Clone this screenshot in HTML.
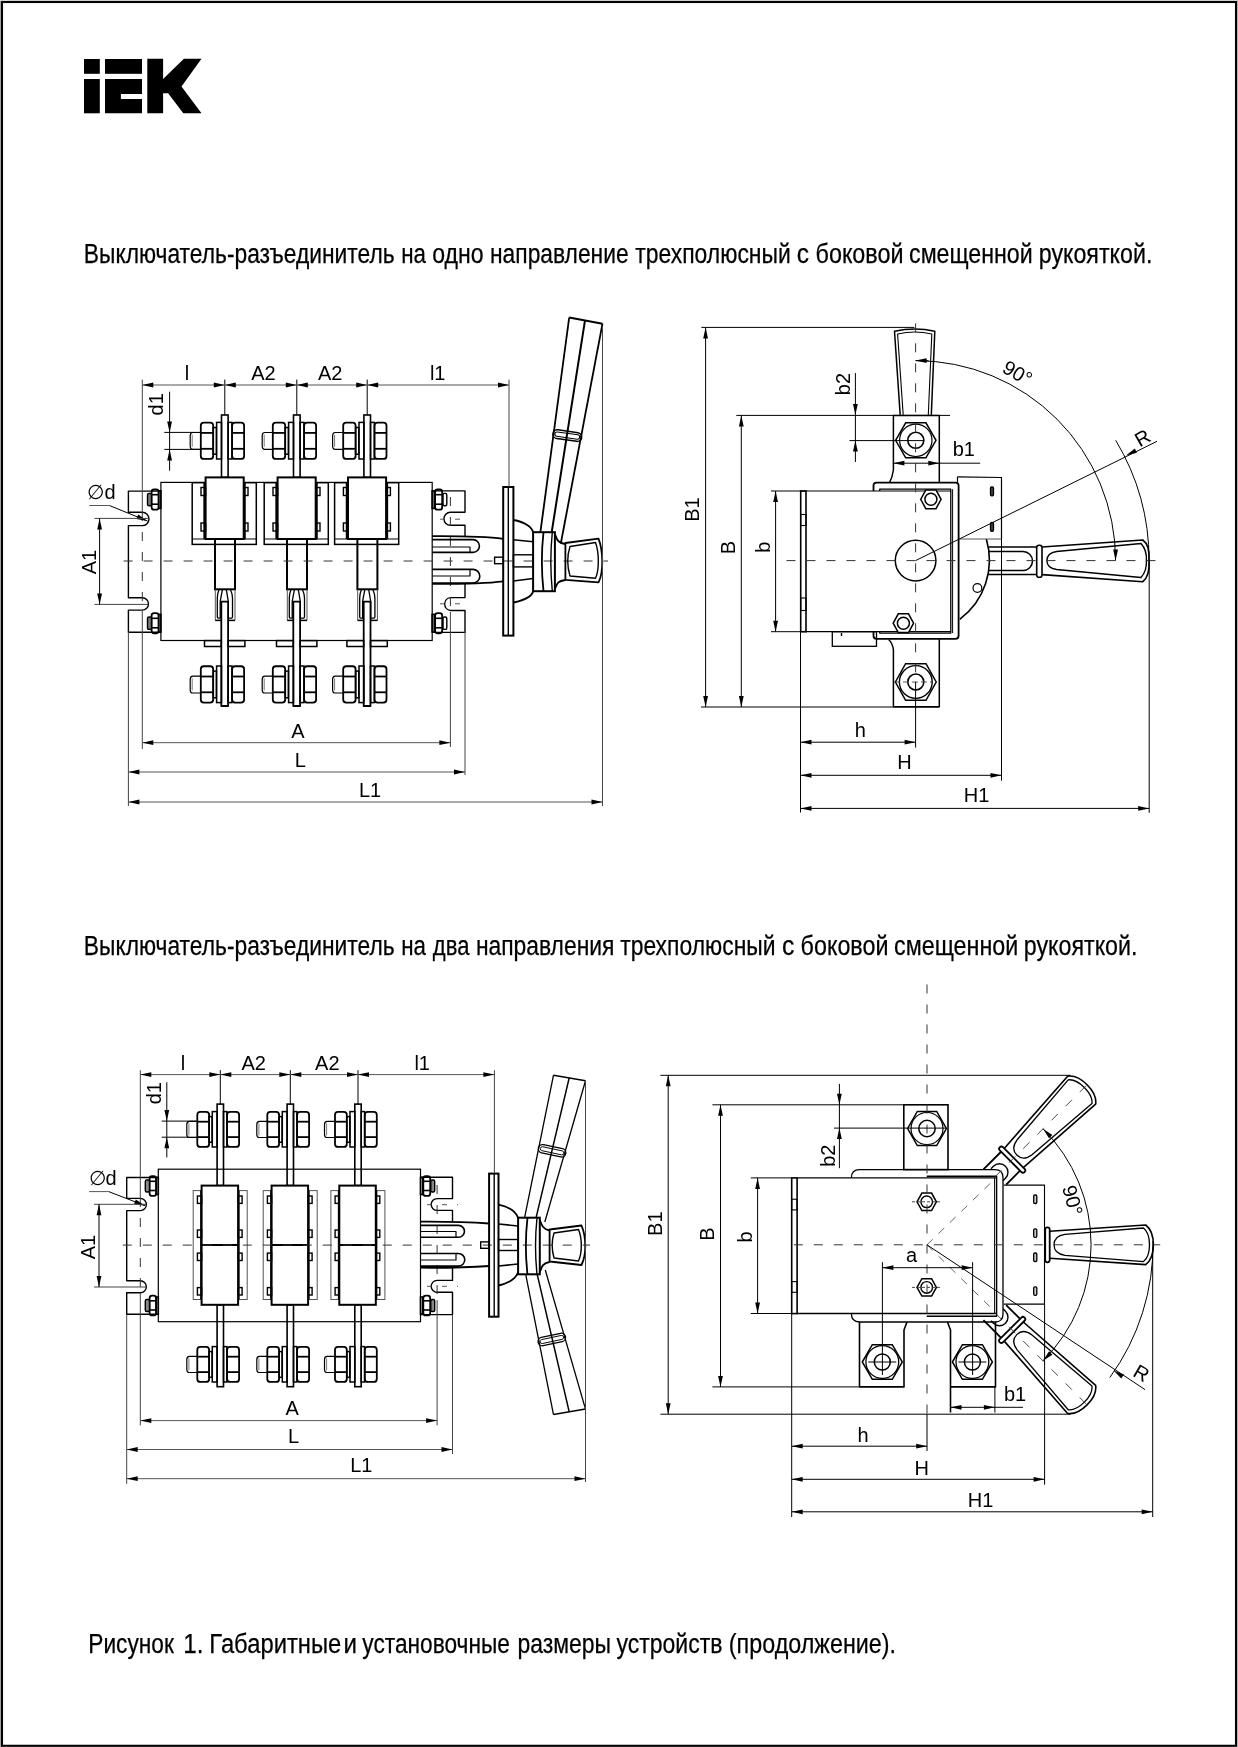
<!DOCTYPE html>
<html><head><meta charset="utf-8"><style>
html,body{margin:0;padding:0;background:#fff;}
svg{display:block;will-change:transform;}
text{font-family:"Liberation Sans",sans-serif;fill:#000;}
.t27{stroke:#000;stroke-width:0.25;}
</style></head><body>
<svg width="1238" height="1747" viewBox="0 0 1238 1747">
<rect x="0" y="0" width="1" height="1747" fill="#aaa"/>
<rect x="0" y="0" width="1238" height="1" fill="#ddd"/>
<rect x="1237" y="0" width="1" height="1747" fill="#bbb"/>
<rect x="2" y="2" width="1234" height="1743.8" fill="none" stroke="#000" stroke-width="2.1"/>
<g fill="#000"><rect x="84" y="59" width="15.8" height="14.8"/><rect x="84" y="79" width="15.8" height="34.3"/><rect x="105" y="59" width="37" height="14.8"/><polygon points="105,79 142,79 142,93.9 120.9,93.9 120.9,99 142,99 142,113.3 105,113.3"/><polygon points="147.3,58.8 163.1,58.8 163.1,79 183.9,58.8 201.5,58.8 181.5,86.6 201.5,113.3 183.3,113.3 168.1,93.3 163.1,93.3 163.1,113.3 147.3,113.3"/></g>
<text x="83.84" y="262.5" font-size="27" text-anchor="start" textLength="310.76" lengthAdjust="spacingAndGlyphs" class="t27">Выключатель-разъединитель</text>
<text x="401.23" y="262.5" font-size="27" text-anchor="start" textLength="24.8" lengthAdjust="spacingAndGlyphs" class="t27">на</text>
<text x="432.16" y="262.5" font-size="27" text-anchor="start" textLength="51.38" lengthAdjust="spacingAndGlyphs" class="t27">одно</text>
<text x="490.0" y="262.5" font-size="27" text-anchor="start" textLength="138.6" lengthAdjust="spacingAndGlyphs" class="t27">направление</text>
<text x="635.28" y="262.5" font-size="27" text-anchor="start" textLength="155.49" lengthAdjust="spacingAndGlyphs" class="t27">трехполюсный</text>
<text x="796.8" y="262.5" font-size="27" text-anchor="start" textLength="12.23" lengthAdjust="spacingAndGlyphs" class="t27">с</text>
<text x="815.51" y="262.5" font-size="27" text-anchor="start" textLength="88.09" lengthAdjust="spacingAndGlyphs" class="t27">боковой</text>
<text x="909.05" y="262.5" font-size="27" text-anchor="start" textLength="123.7" lengthAdjust="spacingAndGlyphs" class="t27">смещенной</text>
<text x="1038.74" y="262.5" font-size="27" text-anchor="start" textLength="113.65" lengthAdjust="spacingAndGlyphs" class="t27">рукояткой.</text>
<text x="83.84" y="954.7" font-size="27" text-anchor="start" textLength="310.76" lengthAdjust="spacingAndGlyphs" class="t27">Выключатель-разъединитель</text>
<text x="401.23" y="954.7" font-size="27" text-anchor="start" textLength="24.8" lengthAdjust="spacingAndGlyphs" class="t27">на</text>
<text x="432.86" y="954.7" font-size="27" text-anchor="start" textLength="36.55" lengthAdjust="spacingAndGlyphs" class="t27">два</text>
<text x="475.89" y="954.7" font-size="27" text-anchor="start" textLength="138.52" lengthAdjust="spacingAndGlyphs" class="t27">направления</text>
<text x="620.18" y="954.7" font-size="27" text-anchor="start" textLength="155.39" lengthAdjust="spacingAndGlyphs" class="t27">трехполюсный</text>
<text x="781.89" y="954.7" font-size="27" text-anchor="start" textLength="12.35" lengthAdjust="spacingAndGlyphs" class="t27">с</text>
<text x="800.62" y="954.7" font-size="27" text-anchor="start" textLength="87.88" lengthAdjust="spacingAndGlyphs" class="t27">боковой</text>
<text x="894.05" y="954.7" font-size="27" text-anchor="start" textLength="124.21" lengthAdjust="spacingAndGlyphs" class="t27">смещенной</text>
<text x="1023.74" y="954.7" font-size="27" text-anchor="start" textLength="113.76" lengthAdjust="spacingAndGlyphs" class="t27">рукояткой.</text>
<text x="88.25" y="1653" font-size="27" text-anchor="start" textLength="85.59" lengthAdjust="spacingAndGlyphs" class="t27">Рисунок</text>
<text x="183.2" y="1653" font-size="27" text-anchor="start" textLength="20.27" lengthAdjust="spacingAndGlyphs" class="t27">1.</text>
<text x="209.36" y="1653" font-size="27" text-anchor="start" textLength="131.87" lengthAdjust="spacingAndGlyphs" class="t27">Габаритные</text>
<text x="343.5" y="1653" font-size="27" text-anchor="start" textLength="13.48" lengthAdjust="spacingAndGlyphs" class="t27">и</text>
<text x="362.32" y="1653" font-size="27" text-anchor="start" textLength="147.55" lengthAdjust="spacingAndGlyphs" class="t27">установочные</text>
<text x="517.45" y="1653" font-size="27" text-anchor="start" textLength="93.67" lengthAdjust="spacingAndGlyphs" class="t27">размеры</text>
<text x="616.41" y="1653" font-size="27" text-anchor="start" textLength="106.1" lengthAdjust="spacingAndGlyphs" class="t27">устройств</text>
<text x="728.83" y="1653" font-size="27" text-anchor="start" textLength="167.19" lengthAdjust="spacingAndGlyphs" class="t27">(продолжение).</text>
<rect x="160.90" y="482.40" width="271.30" height="158.10" fill="none" stroke="#000" stroke-width="1.2"/>
<path d="M160.9,491.1 H128.4 V512.2 H142.3 A6.7,6.7 0 0 1 142.3,525.6 H128.4 V597.7 H142.3 A6.2,6.2 0 0 1 142.3,610.1 H128.4 V632.2 H160.9" fill="none" stroke="#000" stroke-width="1.4" stroke-linejoin="round" />
<path d="M432.2,490.9 H465 V512.3 H450.4 A6.5,6.5 0 0 0 450.4,525.3 H465 V536.5" fill="none" stroke="#000" stroke-width="1.4" stroke-linejoin="round" />
<path d="M465,584 V597.6 H450.4 A6.5,6.5 0 0 0 450.4,610.5 H465 V632.4 H432.2" fill="none" stroke="#000" stroke-width="1.4" stroke-linejoin="round" />
<rect x="158.70" y="490.80" width="2.20" height="17.60" fill="none" stroke="#000" stroke-width="1.6"/>
<rect x="151.60" y="489.50" width="7.00" height="20.20" rx="2.5" fill="none" stroke="#000" stroke-width="1.8"/>
<line x1="151.6" y1="494.7" x2="158.6" y2="494.7" stroke="#000" stroke-width="1.6" />
<line x1="151.6" y1="504.2" x2="158.6" y2="504.2" stroke="#000" stroke-width="1.6" />
<rect x="147.50" y="493.40" width="4.00" height="12.40" rx="1.5" fill="#777" stroke="#000" stroke-width="1.4"/>
<rect x="432.10" y="490.80" width="2.10" height="17.60" fill="none" stroke="#000" stroke-width="1.6"/>
<rect x="435.10" y="489.50" width="7.10" height="20.20" rx="2.5" fill="none" stroke="#000" stroke-width="1.8"/>
<line x1="435.1" y1="494.7" x2="442.2" y2="494.7" stroke="#000" stroke-width="1.6" />
<line x1="435.1" y1="504.2" x2="442.2" y2="504.2" stroke="#000" stroke-width="1.6" />
<rect x="443.00" y="493.40" width="3.80" height="12.40" rx="1.5" fill="none" stroke="#000" stroke-width="1.4"/>
<rect x="158.70" y="614.40" width="2.20" height="17.60" fill="none" stroke="#000" stroke-width="1.6"/>
<rect x="151.60" y="613.10" width="7.00" height="20.20" rx="2.5" fill="none" stroke="#000" stroke-width="1.8"/>
<line x1="151.6" y1="618.3" x2="158.6" y2="618.3" stroke="#000" stroke-width="1.6" />
<line x1="151.6" y1="627.8" x2="158.6" y2="627.8" stroke="#000" stroke-width="1.6" />
<rect x="147.50" y="617.00" width="4.00" height="12.40" rx="1.5" fill="#777" stroke="#000" stroke-width="1.4"/>
<rect x="432.10" y="614.40" width="2.10" height="17.60" fill="none" stroke="#000" stroke-width="1.6"/>
<rect x="435.10" y="613.10" width="7.10" height="20.20" rx="2.5" fill="none" stroke="#000" stroke-width="1.8"/>
<line x1="435.1" y1="618.3" x2="442.2" y2="618.3" stroke="#000" stroke-width="1.6" />
<line x1="435.1" y1="627.8" x2="442.2" y2="627.8" stroke="#000" stroke-width="1.6" />
<rect x="443.00" y="617.00" width="3.80" height="12.40" rx="1.5" fill="none" stroke="#000" stroke-width="1.4"/>
<rect x="221.50" y="415.00" width="6.60" height="62.40" fill="none" stroke="#000" stroke-width="1.6"/>
<path d="M200.8,432.5 H192.8 Q190.2,432.5 190.2,435.8 V445.8 Q190.2,449.4 192.8,449.4 H200.8" fill="none" stroke="#000" stroke-width="1.2" stroke-linejoin="round" />
<line x1="192.2" y1="434.8" x2="192.2" y2="446.8" stroke="#555" stroke-width="0.8" />
<rect x="200.80" y="422.65" width="12.40" height="36.30" rx="3" fill="none" stroke="#000" stroke-width="1.8"/>
<line x1="200.8" y1="432.9" x2="213.2" y2="432.9" stroke="#000" stroke-width="1.8" />
<line x1="200.8" y1="448.8" x2="213.2" y2="448.8" stroke="#000" stroke-width="1.8" />
<rect x="213.20" y="427.50" width="3.20" height="26.70" fill="none" stroke="#000" stroke-width="1.5"/>
<rect x="216.60" y="422.40" width="4.90" height="36.60" fill="none" stroke="#000" stroke-width="1.5"/>
<rect x="228.10" y="422.40" width="3.90" height="36.60" fill="none" stroke="#000" stroke-width="1.5"/>
<rect x="232.10" y="422.65" width="12.00" height="36.30" rx="3" fill="none" stroke="#000" stroke-width="1.8"/>
<line x1="232.1" y1="432.9" x2="244.1" y2="432.9" stroke="#000" stroke-width="1.8" />
<line x1="232.1" y1="448.8" x2="244.1" y2="448.8" stroke="#000" stroke-width="1.8" />
<rect x="192.20" y="482.70" width="64.10" height="61.70" fill="none" stroke="#000" stroke-width="1.5"/>
<line x1="192.2" y1="539.0" x2="256.3" y2="539.0" stroke="#000" stroke-width="1.2" />
<line x1="204.2" y1="482.7" x2="204.2" y2="539.0" stroke="#000" stroke-width="1.7" />
<line x1="244.9" y1="482.7" x2="244.9" y2="539.0" stroke="#000" stroke-width="1.7" />
<rect x="205.60" y="477.40" width="38.10" height="61.60" fill="#fff" stroke="#000" stroke-width="2.0"/>
<rect x="201.00" y="487.50" width="4.60" height="8.00" fill="none" stroke="#000" stroke-width="1.4"/>
<rect x="243.70" y="487.50" width="4.30" height="8.00" fill="none" stroke="#000" stroke-width="1.4"/>
<rect x="201.00" y="523.00" width="4.60" height="8.00" fill="none" stroke="#000" stroke-width="1.4"/>
<rect x="243.70" y="523.00" width="4.30" height="8.00" fill="none" stroke="#000" stroke-width="1.4"/>
<rect x="215.00" y="539.00" width="20.00" height="50.30" fill="none" stroke="#000" stroke-width="2.0"/>
<path d="M215.3,589.5 V620.4 H235.0 V589.5" fill="none" stroke="#555" stroke-width="1.0" stroke-linejoin="round" />
<line x1="215.3" y1="620.4" x2="235.0" y2="620.4" stroke="#000" stroke-width="1.5" />
<path d="M218.9,589.7 Q217.3,594 217.3,598.1 V617 Q217.3,618.1 218.4,618.1 H220.2 V601.3 L222.4,589.7" fill="none" stroke="#000" stroke-width="1.3" stroke-linejoin="round" />
<path d="M230.5,589.7 Q232.5,594 232.5,598.1 V617 Q232.5,618.1 231.4,618.1 H228.3 V601.3 L226.3,589.7" fill="none" stroke="#000" stroke-width="1.3" stroke-linejoin="round" />
<path d="M221.3,706 V601.7 H228.1 V706 Z" fill="#fff" stroke="#000" stroke-width="1.8" stroke-linejoin="round" />
<rect x="204.50" y="640.60" width="16.80" height="5.90" fill="none" stroke="#000" stroke-width="1.5"/>
<rect x="228.10" y="640.60" width="16.80" height="5.90" fill="none" stroke="#000" stroke-width="1.5"/>
<path d="M200.8,676.1 H192.8 Q190.2,676.1 190.2,679.4 V689.4 Q190.2,693.0 192.8,693.0 H200.8" fill="none" stroke="#000" stroke-width="1.2" stroke-linejoin="round" />
<line x1="192.2" y1="678.4" x2="192.2" y2="690.4" stroke="#555" stroke-width="0.8" />
<rect x="200.80" y="666.25" width="12.40" height="36.30" rx="3" fill="none" stroke="#000" stroke-width="1.8"/>
<line x1="200.8" y1="676.5" x2="213.2" y2="676.5" stroke="#000" stroke-width="1.8" />
<line x1="200.8" y1="692.3" x2="213.2" y2="692.3" stroke="#000" stroke-width="1.8" />
<rect x="213.20" y="671.10" width="3.20" height="26.70" fill="none" stroke="#000" stroke-width="1.5"/>
<rect x="216.60" y="666.00" width="4.90" height="36.60" fill="none" stroke="#000" stroke-width="1.5"/>
<rect x="228.10" y="666.00" width="3.90" height="36.60" fill="none" stroke="#000" stroke-width="1.5"/>
<rect x="232.10" y="666.25" width="12.00" height="36.30" rx="3" fill="none" stroke="#000" stroke-width="1.8"/>
<line x1="232.1" y1="676.5" x2="244.1" y2="676.5" stroke="#000" stroke-width="1.8" />
<line x1="232.1" y1="692.3" x2="244.1" y2="692.3" stroke="#000" stroke-width="1.8" />
<rect x="293.50" y="415.00" width="6.60" height="62.40" fill="none" stroke="#000" stroke-width="1.6"/>
<path d="M272.8,432.5 H264.8 Q262.2,432.5 262.2,435.8 V445.8 Q262.2,449.4 264.8,449.4 H272.8" fill="none" stroke="#000" stroke-width="1.2" stroke-linejoin="round" />
<line x1="264.2" y1="434.8" x2="264.2" y2="446.8" stroke="#555" stroke-width="0.8" />
<rect x="272.80" y="422.65" width="12.40" height="36.30" rx="3" fill="none" stroke="#000" stroke-width="1.8"/>
<line x1="272.8" y1="432.9" x2="285.2" y2="432.9" stroke="#000" stroke-width="1.8" />
<line x1="272.8" y1="448.8" x2="285.2" y2="448.8" stroke="#000" stroke-width="1.8" />
<rect x="285.20" y="427.50" width="3.20" height="26.70" fill="none" stroke="#000" stroke-width="1.5"/>
<rect x="288.60" y="422.40" width="4.90" height="36.60" fill="none" stroke="#000" stroke-width="1.5"/>
<rect x="300.10" y="422.40" width="3.90" height="36.60" fill="none" stroke="#000" stroke-width="1.5"/>
<rect x="304.10" y="422.65" width="12.00" height="36.30" rx="3" fill="none" stroke="#000" stroke-width="1.8"/>
<line x1="304.1" y1="432.9" x2="316.1" y2="432.9" stroke="#000" stroke-width="1.8" />
<line x1="304.1" y1="448.8" x2="316.1" y2="448.8" stroke="#000" stroke-width="1.8" />
<rect x="264.20" y="482.70" width="64.10" height="61.70" fill="none" stroke="#000" stroke-width="1.5"/>
<line x1="264.2" y1="539.0" x2="328.3" y2="539.0" stroke="#000" stroke-width="1.2" />
<line x1="276.2" y1="482.7" x2="276.2" y2="539.0" stroke="#000" stroke-width="1.7" />
<line x1="316.9" y1="482.7" x2="316.9" y2="539.0" stroke="#000" stroke-width="1.7" />
<rect x="277.60" y="477.40" width="38.10" height="61.60" fill="#fff" stroke="#000" stroke-width="2.0"/>
<rect x="273.00" y="487.50" width="4.60" height="8.00" fill="none" stroke="#000" stroke-width="1.4"/>
<rect x="315.70" y="487.50" width="4.30" height="8.00" fill="none" stroke="#000" stroke-width="1.4"/>
<rect x="273.00" y="523.00" width="4.60" height="8.00" fill="none" stroke="#000" stroke-width="1.4"/>
<rect x="315.70" y="523.00" width="4.30" height="8.00" fill="none" stroke="#000" stroke-width="1.4"/>
<rect x="287.00" y="539.00" width="20.00" height="50.30" fill="none" stroke="#000" stroke-width="2.0"/>
<path d="M287.3,589.5 V620.4 H307.0 V589.5" fill="none" stroke="#555" stroke-width="1.0" stroke-linejoin="round" />
<line x1="287.3" y1="620.4" x2="307.0" y2="620.4" stroke="#000" stroke-width="1.5" />
<path d="M290.9,589.7 Q289.3,594 289.3,598.1 V617 Q289.3,618.1 290.4,618.1 H292.2 V601.3 L294.4,589.7" fill="none" stroke="#000" stroke-width="1.3" stroke-linejoin="round" />
<path d="M302.5,589.7 Q304.5,594 304.5,598.1 V617 Q304.5,618.1 303.4,618.1 H300.3 V601.3 L298.3,589.7" fill="none" stroke="#000" stroke-width="1.3" stroke-linejoin="round" />
<path d="M293.3,706 V601.7 H300.1 V706 Z" fill="#fff" stroke="#000" stroke-width="1.8" stroke-linejoin="round" />
<rect x="276.50" y="640.60" width="16.80" height="5.90" fill="none" stroke="#000" stroke-width="1.5"/>
<rect x="300.10" y="640.60" width="16.80" height="5.90" fill="none" stroke="#000" stroke-width="1.5"/>
<path d="M272.8,676.1 H264.8 Q262.2,676.1 262.2,679.4 V689.4 Q262.2,693.0 264.8,693.0 H272.8" fill="none" stroke="#000" stroke-width="1.2" stroke-linejoin="round" />
<line x1="264.2" y1="678.4" x2="264.2" y2="690.4" stroke="#555" stroke-width="0.8" />
<rect x="272.80" y="666.25" width="12.40" height="36.30" rx="3" fill="none" stroke="#000" stroke-width="1.8"/>
<line x1="272.8" y1="676.5" x2="285.2" y2="676.5" stroke="#000" stroke-width="1.8" />
<line x1="272.8" y1="692.3" x2="285.2" y2="692.3" stroke="#000" stroke-width="1.8" />
<rect x="285.20" y="671.10" width="3.20" height="26.70" fill="none" stroke="#000" stroke-width="1.5"/>
<rect x="288.60" y="666.00" width="4.90" height="36.60" fill="none" stroke="#000" stroke-width="1.5"/>
<rect x="300.10" y="666.00" width="3.90" height="36.60" fill="none" stroke="#000" stroke-width="1.5"/>
<rect x="304.10" y="666.25" width="12.00" height="36.30" rx="3" fill="none" stroke="#000" stroke-width="1.8"/>
<line x1="304.1" y1="676.5" x2="316.1" y2="676.5" stroke="#000" stroke-width="1.8" />
<line x1="304.1" y1="692.3" x2="316.1" y2="692.3" stroke="#000" stroke-width="1.8" />
<rect x="363.90" y="415.00" width="6.60" height="62.40" fill="none" stroke="#000" stroke-width="1.6"/>
<path d="M343.2,432.5 H335.2 Q332.6,432.5 332.6,435.8 V445.8 Q332.6,449.4 335.2,449.4 H343.2" fill="none" stroke="#000" stroke-width="1.2" stroke-linejoin="round" />
<line x1="334.6" y1="434.8" x2="334.6" y2="446.8" stroke="#555" stroke-width="0.8" />
<rect x="343.20" y="422.65" width="12.40" height="36.30" rx="3" fill="none" stroke="#000" stroke-width="1.8"/>
<line x1="343.2" y1="432.9" x2="355.6" y2="432.9" stroke="#000" stroke-width="1.8" />
<line x1="343.2" y1="448.8" x2="355.6" y2="448.8" stroke="#000" stroke-width="1.8" />
<rect x="355.60" y="427.50" width="3.20" height="26.70" fill="none" stroke="#000" stroke-width="1.5"/>
<rect x="359.00" y="422.40" width="4.90" height="36.60" fill="none" stroke="#000" stroke-width="1.5"/>
<rect x="370.50" y="422.40" width="3.90" height="36.60" fill="none" stroke="#000" stroke-width="1.5"/>
<rect x="374.50" y="422.65" width="12.00" height="36.30" rx="3" fill="none" stroke="#000" stroke-width="1.8"/>
<line x1="374.5" y1="432.9" x2="386.5" y2="432.9" stroke="#000" stroke-width="1.8" />
<line x1="374.5" y1="448.8" x2="386.5" y2="448.8" stroke="#000" stroke-width="1.8" />
<rect x="334.60" y="482.70" width="64.10" height="61.70" fill="none" stroke="#000" stroke-width="1.5"/>
<line x1="334.6" y1="539.0" x2="398.7" y2="539.0" stroke="#000" stroke-width="1.2" />
<line x1="346.6" y1="482.7" x2="346.6" y2="539.0" stroke="#000" stroke-width="1.7" />
<line x1="387.3" y1="482.7" x2="387.3" y2="539.0" stroke="#000" stroke-width="1.7" />
<rect x="348.00" y="477.40" width="38.10" height="61.60" fill="#fff" stroke="#000" stroke-width="2.0"/>
<rect x="343.40" y="487.50" width="4.60" height="8.00" fill="none" stroke="#000" stroke-width="1.4"/>
<rect x="386.10" y="487.50" width="4.30" height="8.00" fill="none" stroke="#000" stroke-width="1.4"/>
<rect x="343.40" y="523.00" width="4.60" height="8.00" fill="none" stroke="#000" stroke-width="1.4"/>
<rect x="386.10" y="523.00" width="4.30" height="8.00" fill="none" stroke="#000" stroke-width="1.4"/>
<rect x="357.40" y="539.00" width="20.00" height="50.30" fill="none" stroke="#000" stroke-width="2.0"/>
<path d="M357.7,589.5 V620.4 H377.4 V589.5" fill="none" stroke="#555" stroke-width="1.0" stroke-linejoin="round" />
<line x1="357.7" y1="620.4" x2="377.4" y2="620.4" stroke="#000" stroke-width="1.5" />
<path d="M361.3,589.7 Q359.7,594 359.7,598.1 V617 Q359.7,618.1 360.8,618.1 H362.6 V601.3 L364.8,589.7" fill="none" stroke="#000" stroke-width="1.3" stroke-linejoin="round" />
<path d="M372.9,589.7 Q374.9,594 374.9,598.1 V617 Q374.9,618.1 373.8,618.1 H370.7 V601.3 L368.7,589.7" fill="none" stroke="#000" stroke-width="1.3" stroke-linejoin="round" />
<path d="M363.7,706 V601.7 H370.5 V706 Z" fill="#fff" stroke="#000" stroke-width="1.8" stroke-linejoin="round" />
<rect x="346.90" y="640.60" width="16.80" height="5.90" fill="none" stroke="#000" stroke-width="1.5"/>
<rect x="370.50" y="640.60" width="16.80" height="5.90" fill="none" stroke="#000" stroke-width="1.5"/>
<path d="M343.2,676.1 H335.2 Q332.6,676.1 332.6,679.4 V689.4 Q332.6,693.0 335.2,693.0 H343.2" fill="none" stroke="#000" stroke-width="1.2" stroke-linejoin="round" />
<line x1="334.6" y1="678.4" x2="334.6" y2="690.4" stroke="#555" stroke-width="0.8" />
<rect x="343.20" y="666.25" width="12.40" height="36.30" rx="3" fill="none" stroke="#000" stroke-width="1.8"/>
<line x1="343.2" y1="676.5" x2="355.6" y2="676.5" stroke="#000" stroke-width="1.8" />
<line x1="343.2" y1="692.3" x2="355.6" y2="692.3" stroke="#000" stroke-width="1.8" />
<rect x="355.60" y="671.10" width="3.20" height="26.70" fill="none" stroke="#000" stroke-width="1.5"/>
<rect x="359.00" y="666.00" width="4.90" height="36.60" fill="none" stroke="#000" stroke-width="1.5"/>
<rect x="370.50" y="666.00" width="3.90" height="36.60" fill="none" stroke="#000" stroke-width="1.5"/>
<rect x="374.50" y="666.25" width="12.00" height="36.30" rx="3" fill="none" stroke="#000" stroke-width="1.8"/>
<line x1="374.5" y1="676.5" x2="386.5" y2="676.5" stroke="#000" stroke-width="1.8" />
<line x1="374.5" y1="692.3" x2="386.5" y2="692.3" stroke="#000" stroke-width="1.8" />
<line x1="123.6" y1="561.0" x2="608.0" y2="561.0" stroke="#333" stroke-width="1.0" stroke-dasharray="9 11" />
<line x1="142.3" y1="512.0" x2="142.3" y2="611.0" stroke="#333" stroke-width="1.0" stroke-dasharray="9 11" />
<line x1="450.4" y1="497.0" x2="450.4" y2="612.0" stroke="#333" stroke-width="1.0" stroke-dasharray="9 11" />
<line x1="440.0" y1="519.2" x2="470.0" y2="519.2" stroke="#444" stroke-width="0.9" stroke-dasharray="5 10" />
<line x1="440.0" y1="603.8" x2="470.0" y2="603.8" stroke="#444" stroke-width="0.9" stroke-dasharray="5 10" />
<path d="M432.2,536.2 C470,536 490,537 503.2,538.8" fill="none" stroke="#000" stroke-width="1.8" stroke-linejoin="round" />
<path d="M432.2,583.9 C470,584 490,583 503.2,581.3" fill="none" stroke="#000" stroke-width="1.8" stroke-linejoin="round" />
<path d="M432.2,539.6 H473 A6.4,6.4 0 0 1 473,552.4 H432.2" fill="none" stroke="#000" stroke-width="1.6" stroke-linejoin="round" />
<path d="M432.2,547 H470 V552.4" fill="none" stroke="#000" stroke-width="1.2" stroke-linejoin="round" />
<path d="M432.2,569.4 H473 A6.8,6.8 0 0 1 473,583 H432.2" fill="none" stroke="#000" stroke-width="1.6" stroke-linejoin="round" />
<path d="M432.2,576 H470 V569.4" fill="none" stroke="#000" stroke-width="1.2" stroke-linejoin="round" />
<rect x="494.60" y="557.20" width="8.60" height="6.50" fill="none" stroke="#000" stroke-width="1.4"/>
<rect x="503.20" y="487.00" width="10.20" height="148.60" fill="none" stroke="#000" stroke-width="2.0"/>
<line x1="508.3" y1="487.0" x2="508.3" y2="635.6" stroke="#000" stroke-width="1.4" />
<path d="M513.4,520 C525,522 532,527 533.1,532.2" fill="none" stroke="#000" stroke-width="1.8" stroke-linejoin="round" />
<path d="M513.4,602.5 C525,600 532,596 533.1,591.2" fill="none" stroke="#000" stroke-width="1.8" stroke-linejoin="round" />
<path d="M513.4,539.7 L533.1,541.8" fill="none" stroke="#000" stroke-width="1.6" stroke-linejoin="round" />
<path d="M513.4,581 L533.1,578.5" fill="none" stroke="#000" stroke-width="1.6" stroke-linejoin="round" />
<rect x="513.40" y="554.80" width="19.70" height="12.10" fill="none" stroke="#000" stroke-width="1.4"/>
<rect x="533.10" y="532.20" width="21.80" height="59.00" fill="none" stroke="#000" stroke-width="2.0"/>
<path d="M543.5,532.2 C541.5,550 541.5,573 543.5,591.2" fill="none" stroke="#000" stroke-width="1.8" stroke-linejoin="round" />
<path d="M552.3,532.2 C550.5,550 550.5,573 552.3,591.2" fill="none" stroke="#000" stroke-width="1.4" stroke-linejoin="round" />
<path d="M554.9,534 C557,540 558,543 565.4,544" fill="none" stroke="#000" stroke-width="1.8" stroke-linejoin="round" />
<path d="M554.9,589 C557,583 558,581 565.4,580" fill="none" stroke="#000" stroke-width="1.8" stroke-linejoin="round" />
<path d="M565.4,543 L598.5,538.6 C603,550 604,572 598.5,582.3 L565.4,579.8 Z" fill="none" stroke="#000" stroke-width="1.8" stroke-linejoin="round" />
<path d="M570,546.5 L595.5,542.5 C599,552 599.5,570 595.5,578.3 L570,576 C567,566 567,556 570,546.5 Z" fill="none" stroke="#000" stroke-width="1.4" stroke-linejoin="round" />
<path d="M569.2,317.5 L602.5,323.7" fill="none" stroke="#000" stroke-width="2.0" stroke-linejoin="round" />
<line x1="569.2" y1="317.5" x2="540.4" y2="532.2" stroke="#000" stroke-width="1.8" />
<line x1="585.0" y1="320.4" x2="551.7" y2="532.2" stroke="#000" stroke-width="2.0" />
<line x1="602.5" y1="323.7" x2="560.8" y2="543.5" stroke="#000" stroke-width="1.8" />
<rect x="-14.5" y="-4.4" width="29" height="8.8" rx="4.4" fill="none" stroke="#000" stroke-width="1.5" transform="translate(567.3,435.6) rotate(8)"/>
<rect x="-12.5" y="-2.2" width="25" height="4.4" rx="2.2" fill="none" stroke="#000" stroke-width="1.0" transform="translate(567.3,435.6) rotate(8)"/>
<line x1="142.3" y1="379.6" x2="142.3" y2="512.0" stroke="#444" stroke-width="1.0" />
<line x1="142.3" y1="611.0" x2="142.3" y2="749.0" stroke="#444" stroke-width="1.0" />
<line x1="224.8" y1="379.6" x2="224.8" y2="415.0" stroke="#000" stroke-width="1.0" />
<line x1="296.8" y1="379.6" x2="296.8" y2="415.0" stroke="#000" stroke-width="1.0" />
<line x1="367.2" y1="379.6" x2="367.2" y2="415.0" stroke="#000" stroke-width="1.0" />
<line x1="509.0" y1="379.7" x2="509.0" y2="487.0" stroke="#444" stroke-width="1.0" />
<line x1="142.3" y1="385.0" x2="509.0" y2="385.0" stroke="#555" stroke-width="1.0" />
<polygon points="142.3,385.0 153.3,382.6 153.3,387.4" fill="#000"/>
<polygon points="224.8,385.0 213.8,387.4 213.8,382.6" fill="#000"/>
<polygon points="224.8,385.0 235.8,382.6 235.8,387.4" fill="#000"/>
<polygon points="296.8,385.0 285.8,387.4 285.8,382.6" fill="#000"/>
<polygon points="296.8,385.0 307.8,382.6 307.8,387.4" fill="#000"/>
<polygon points="367.2,385.0 356.2,387.4 356.2,382.6" fill="#000"/>
<polygon points="367.2,385.0 378.2,382.6 378.2,387.4" fill="#000"/>
<polygon points="509.0,385.0 498.0,387.4 498.0,382.6" fill="#000"/>
<text x="187" y="379.9" font-size="20" text-anchor="middle" >l</text>
<text x="263.5" y="379.9" font-size="20" text-anchor="middle" >A2</text>
<text x="330.2" y="379.9" font-size="20" text-anchor="middle" >A2</text>
<text x="437.7" y="379.9" font-size="20" text-anchor="middle" >l1</text>
<line x1="169.6" y1="391.7" x2="169.6" y2="470.7" stroke="#000" stroke-width="1.0" />
<polygon points="169.6,432.4 167.2,421.4 172.0,421.4" fill="#000"/>
<polygon points="169.6,449.4 172.0,460.4 167.2,460.4" fill="#000"/>
<line x1="164.3" y1="432.4" x2="201.0" y2="432.4" stroke="#000" stroke-width="1.0" />
<line x1="164.3" y1="449.4" x2="201.0" y2="449.4" stroke="#000" stroke-width="1.0" />
<text x="163.3" y="404.3" font-size="20" text-anchor="middle" transform="rotate(-90 163.3 404.3)" >d1</text>
<text x="101.5" y="498.8" font-size="20" text-anchor="middle" >∅d</text>
<line x1="89.3" y1="505.5" x2="109.4" y2="505.5" stroke="#555" stroke-width="1.0" />
<line x1="109.4" y1="505.5" x2="147.5" y2="521.0" stroke="#000" stroke-width="1.0" />
<polygon points="147.5,521.0 136.4,519.1 138.2,514.6" fill="#000"/>
<line x1="94.4" y1="518.4" x2="148.0" y2="518.4" stroke="#444" stroke-width="1.0" />
<line x1="94.4" y1="604.4" x2="148.0" y2="604.4" stroke="#444" stroke-width="1.0" />
<line x1="99.6" y1="518.4" x2="99.6" y2="604.4" stroke="#000" stroke-width="1.0" />
<polygon points="99.6,518.4 102.0,529.4 97.2,529.4" fill="#000"/>
<polygon points="99.6,604.4 97.2,593.4 102.0,593.4" fill="#000"/>
<text x="95.5" y="562" font-size="20" text-anchor="middle" transform="rotate(-90 95.5 562)" >A1</text>
<line x1="128.4" y1="632.0" x2="128.4" y2="806.0" stroke="#444" stroke-width="1.0" />
<line x1="450.4" y1="612.0" x2="450.4" y2="747.0" stroke="#444" stroke-width="1.0" />
<line x1="465.0" y1="632.0" x2="465.0" y2="775.0" stroke="#444" stroke-width="1.0" />
<line x1="602.5" y1="327.0" x2="602.5" y2="806.0" stroke="#444" stroke-width="1.0" />
<line x1="142.3" y1="742.7" x2="450.4" y2="742.7" stroke="#555" stroke-width="1.0" />
<polygon points="142.3,742.7 153.3,740.3 153.3,745.1" fill="#000"/>
<polygon points="450.4,742.7 439.4,745.1 439.4,740.3" fill="#000"/>
<line x1="128.4" y1="772.0" x2="465.0" y2="772.0" stroke="#555" stroke-width="1.0" />
<polygon points="128.4,772.0 139.4,769.6 139.4,774.4" fill="#000"/>
<polygon points="465.0,772.0 454.0,774.4 454.0,769.6" fill="#000"/>
<line x1="128.4" y1="802.0" x2="602.5" y2="802.0" stroke="#555" stroke-width="1.0" />
<polygon points="128.4,802.0 139.4,799.6 139.4,804.4" fill="#000"/>
<polygon points="602.5,802.0 591.5,804.4 591.5,799.6" fill="#000"/>
<text x="298" y="738.2" font-size="20" text-anchor="middle" >A</text>
<text x="300.3" y="766.8" font-size="20" text-anchor="middle" >L</text>
<text x="370" y="797" font-size="20" text-anchor="middle" >L1</text>
<rect x="800.70" y="491.00" width="5.30" height="140.70" fill="none" stroke="#000" stroke-width="1.6"/>
<rect x="800.70" y="514.50" width="5.30" height="11.00" fill="none" stroke="#000" stroke-width="1.1"/>
<rect x="800.70" y="598.00" width="5.30" height="12.50" fill="none" stroke="#000" stroke-width="1.1"/>
<line x1="806.0" y1="491.0" x2="951.0" y2="491.0" stroke="#000" stroke-width="1.2" />
<line x1="806.0" y1="631.7" x2="951.0" y2="631.7" stroke="#000" stroke-width="1.2" />
<path d="M873.5,491 V485.5 Q873.5,482.6 876.5,482.6 H955.5 Q958.6,482.6 958.6,485.5 V635.8 Q958.6,638.8 955.5,638.8 H876.5 Q873.5,638.8 873.5,635.8 V631.7" fill="none" stroke="#000" stroke-width="1.8" stroke-linejoin="round" />
<path d="M879.7,491 V489.2 H950.8 V633.1 H879.7 V631.7" fill="none" stroke="#000" stroke-width="1.3" stroke-linejoin="round" />
<line x1="952.6" y1="489.2" x2="952.6" y2="633.1" stroke="#000" stroke-width="1.0" />
<path d="M889.5,482.6 Q892.5,477 893.4,470 V415.4 H939.3 V482.6" fill="none" stroke="#000" stroke-width="1.5" stroke-linejoin="round" />
<path d="M900.2,414.9 L894.5,331.3 Q914.9,326.5 934.8,331.3 L931.3,414.9" fill="none" stroke="#000" stroke-width="1.5" stroke-linejoin="round" />
<path d="M903.2,414.9 L897.6,334 Q914.9,330 931.8,334 L928.3,414.9" fill="none" stroke="#000" stroke-width="1.1" stroke-linejoin="round" />
<polygon points="895.6,440.3 905.7,422.8 925.9,422.8 936.0,440.3 925.9,457.8 905.7,457.8" fill="#fff" stroke="#000" stroke-width="1.5"/>
<circle cx="915.80" cy="440.30" r="16.20" fill="none" stroke="#000" stroke-width="1.2"/>
<circle cx="915.80" cy="440.30" r="8.00" fill="none" stroke="#000" stroke-width="1.6"/>
<path d="M888.6,639.5 Q892.5,643 893.4,649.5 V706.8 H939.3 V638.8" fill="none" stroke="#000" stroke-width="1.5" stroke-linejoin="round" />
<polygon points="895.4,682.0 905.6,663.7 926.0,663.7 936.2,682.0 926.0,700.3 905.6,700.3" fill="#fff" stroke="#000" stroke-width="1.5"/>
<circle cx="915.80" cy="682.00" r="16.40" fill="none" stroke="#000" stroke-width="1.4"/>
<circle cx="915.80" cy="682.00" r="8.00" fill="none" stroke="#000" stroke-width="1.6"/>
<line x1="894.0" y1="682.0" x2="932.0" y2="682.0" stroke="#444" stroke-width="0.9" stroke-dasharray="6 3" />
<polygon points="920.7,499.3 925.8,489.9 936.0,489.9 941.1,499.3 936.0,508.7 925.8,508.7" fill="#fff" stroke="#000" stroke-width="1.5"/>
<circle cx="930.90" cy="499.30" r="6.00" fill="none" stroke="#000" stroke-width="1.5"/>
<polygon points="893.2,623.2 898.3,613.8 908.5,613.8 913.6,623.2 908.5,632.6 898.3,632.6" fill="#fff" stroke="#000" stroke-width="1.5"/>
<circle cx="903.40" cy="623.20" r="6.00" fill="none" stroke="#000" stroke-width="1.5"/>
<circle cx="915.60" cy="560.60" r="20.30" fill="none" stroke="#000" stroke-width="1.5"/>
<rect x="832.30" y="631.70" width="44.20" height="14.60" fill="none" stroke="#000" stroke-width="1.3"/>
<line x1="841.5" y1="633.0" x2="841.5" y2="636.0" stroke="#000" stroke-width="1.4" />
<path d="M957.5,476.8 L1001.5,477.5 V539" fill="none" stroke="#000" stroke-width="1.2" stroke-linejoin="round" />
<line x1="957.5" y1="476.8" x2="957.5" y2="482.6" stroke="#000" stroke-width="1.2" />
<line x1="958.6" y1="539.0" x2="1001.5" y2="539.0" stroke="#555" stroke-width="1.0" />
<rect x="990.50" y="487.00" width="3.00" height="8.80" rx="1.2" fill="#444" stroke="#000" stroke-width="1.3"/>
<rect x="990.50" y="522.40" width="3.00" height="8.90" rx="1.2" fill="#444" stroke="#000" stroke-width="1.3"/>
<path d="M986.4,539.3 A73.7,73.7 0 0 1 959.7,619.3" fill="none" stroke="#000" stroke-width="1.6" stroke-linejoin="round" />
<circle cx="977.40" cy="588.00" r="4.40" fill="none" stroke="#000" stroke-width="1.2"/>
<path d="M988.5,547 H1036.7 M988.5,574.6 H1036.7" fill="none" stroke="#000" stroke-width="1.5" stroke-linejoin="round" />
<path d="M989,551.5 H1023 A4.5,4.5 0 0 1 1023,570.5 H989" fill="none" stroke="#000" stroke-width="1.5" stroke-linejoin="round" />
<rect x="1036.7" y="545.3" width="5.3" height="31.9" rx="2.3" fill="#fff" stroke="#000" stroke-width="1.6"/>
<path d="M1042,547 L1142.8,540 Q1150,545 1149,560.4 Q1150,576 1142.8,581.7 L1042,574.6" fill="none" stroke="#000" stroke-width="1.6" stroke-linejoin="round" />
<path d="M1056.6,551.5 L1141,543.5 Q1147,550 1146.4,560.4 Q1147,571 1141,577.5 L1056.6,569.5 Q1046.9,568 1046.9,560.4 Q1046.9,553 1056.6,551.5 Z" fill="none" stroke="#000" stroke-width="1.4" stroke-linejoin="round" />
<line x1="786.5" y1="560.6" x2="1157.0" y2="560.6" stroke="#333" stroke-width="1.0" stroke-dasharray="9 11" />
<line x1="915.6" y1="323.3" x2="915.6" y2="682.0" stroke="#333" stroke-width="1.0" stroke-dasharray="9 11" />
<line x1="915.6" y1="682.0" x2="915.6" y2="747.6" stroke="#000" stroke-width="1.0" />
<path d="M915.6,360.6 A200,200 0 0 1 1115.6,560.6" fill="none" stroke="#000" stroke-width="1.0" stroke-linejoin="round" />
<polygon points="915.6,360.6 926.6,358.2 926.6,363.0" fill="#000"/>
<polygon points="1115.6,560.6 1113.2,549.6 1118.0,549.6" fill="#000"/>
<line x1="915.6" y1="360.6" x2="928.6" y2="360.6" stroke="#000" stroke-width="0.9" />
<text x="1014" y="379" font-size="20" text-anchor="middle" transform="rotate(30 1014 379)" >90°</text>
<path d="M1115.7,440.3 A233.5,233.5 0 0 1 1149.1,560.6" fill="none" stroke="#000" stroke-width="1.0" stroke-linejoin="round" />
<line x1="915.6" y1="560.6" x2="1157.0" y2="441.3" stroke="#000" stroke-width="1.0" />
<polygon points="1126.0,455.5 1134.8,448.4 1136.9,452.7" fill="#000"/>
<text x="1146" y="444" font-size="20" text-anchor="middle" transform="rotate(-30 1146 444)" >R</text>
<line x1="701.4" y1="327.4" x2="914.4" y2="327.4" stroke="#000" stroke-width="1.0" />
<line x1="701.0" y1="707.0" x2="939.3" y2="707.0" stroke="#000" stroke-width="1.0" />
<line x1="705.6" y1="327.4" x2="705.6" y2="707.0" stroke="#000" stroke-width="1.0" />
<polygon points="705.6,327.4 708.0,338.4 703.2,338.4" fill="#000"/>
<polygon points="705.6,707.0 703.2,696.0 708.0,696.0" fill="#000"/>
<text x="698.5" y="509.5" font-size="20" text-anchor="middle" transform="rotate(-90 698.5 509.5)" >B1</text>
<line x1="736.3" y1="415.4" x2="950.0" y2="415.4" stroke="#000" stroke-width="1.0" />
<line x1="741.3" y1="415.4" x2="741.3" y2="707.0" stroke="#000" stroke-width="1.0" />
<polygon points="741.3,415.4 743.7,426.4 738.9,426.4" fill="#000"/>
<polygon points="741.3,707.0 738.9,696.0 743.7,696.0" fill="#000"/>
<text x="735.5" y="547.7" font-size="20" text-anchor="middle" transform="rotate(-90 735.5 547.7)" >B</text>
<line x1="771.0" y1="491.0" x2="806.0" y2="491.0" stroke="#000" stroke-width="1.0" />
<line x1="771.0" y1="631.7" x2="806.0" y2="631.7" stroke="#000" stroke-width="1.0" />
<line x1="775.6" y1="491.0" x2="775.6" y2="631.7" stroke="#000" stroke-width="1.0" />
<polygon points="775.6,491.0 778.0,502.0 773.2,502.0" fill="#000"/>
<polygon points="775.6,631.7 773.2,620.7 778.0,620.7" fill="#000"/>
<text x="770.5" y="547.3" font-size="20" text-anchor="middle" transform="rotate(-90 770.5 547.3)" >b</text>
<line x1="855.4" y1="373.1" x2="855.4" y2="462.0" stroke="#000" stroke-width="1.0" />
<polygon points="855.4,414.9 853.0,403.9 857.8,403.9" fill="#000"/>
<polygon points="855.4,440.6 857.8,451.6 853.0,451.6" fill="#000"/>
<line x1="849.5" y1="440.6" x2="924.2" y2="440.6" stroke="#000" stroke-width="1.0" />
<text x="849.5" y="384" font-size="20" text-anchor="middle" transform="rotate(-90 849.5 384)" >b2</text>
<line x1="893.4" y1="463.2" x2="980.2" y2="463.2" stroke="#000" stroke-width="1.0" />
<polygon points="893.4,463.2 904.4,460.8 904.4,465.6" fill="#000"/>
<polygon points="939.3,463.2 928.3,465.6 928.3,460.8" fill="#000"/>
<text x="963.8" y="455.7" font-size="20" text-anchor="middle" >b1</text>
<line x1="800.5" y1="631.7" x2="800.5" y2="812.5" stroke="#000" stroke-width="1.0" />
<line x1="1001.5" y1="539.0" x2="1001.5" y2="780.7" stroke="#000" stroke-width="1.0" />
<line x1="1149.2" y1="560.6" x2="1149.2" y2="812.8" stroke="#000" stroke-width="1.0" />
<line x1="800.5" y1="742.2" x2="915.6" y2="742.2" stroke="#000" stroke-width="1.0" />
<polygon points="800.5,742.2 811.5,739.8 811.5,744.6" fill="#000"/>
<polygon points="915.6,742.2 904.6,744.6 904.6,739.8" fill="#000"/>
<line x1="800.5" y1="775.3" x2="1001.5" y2="775.3" stroke="#000" stroke-width="1.0" />
<polygon points="800.5,775.3 811.5,772.9 811.5,777.7" fill="#000"/>
<polygon points="1001.5,775.3 990.5,777.7 990.5,772.9" fill="#000"/>
<line x1="800.5" y1="808.4" x2="1149.2" y2="808.4" stroke="#000" stroke-width="1.0" />
<polygon points="800.5,808.4 811.5,806.0 811.5,810.8" fill="#000"/>
<polygon points="1149.2,808.4 1138.2,810.8 1138.2,806.0" fill="#000"/>
<text x="860.3" y="737.2" font-size="20" text-anchor="middle" >h</text>
<text x="904.4" y="768.7" font-size="20" text-anchor="middle" >H</text>
<text x="976.5" y="802.1" font-size="20" text-anchor="middle" >H1</text>
<rect x="158.30" y="1169.20" width="262.20" height="152.50" fill="none" stroke="#000" stroke-width="1.2"/>
<path d="M158.3,1177.5 H126.7 V1198.4 H140.3 A6.1,6.1 0 0 1 140.3,1210.6 H126.7 V1280.7 H140.3 A6.05,6.05 0 0 1 140.3,1292.8 H126.7 V1314.3 H158.3" fill="none" stroke="#000" stroke-width="1.4" stroke-linejoin="round" />
<path d="M420.5,1177.2 H452.5 V1198.6 H437.1 A5.9,5.9 0 0 0 437.1,1210.4 H452.5 V1221.5" fill="none" stroke="#000" stroke-width="1.4" stroke-linejoin="round" />
<path d="M452.5,1267.8 V1280.4 H437.1 A5.9,5.9 0 0 0 437.1,1292.2 H452.5 V1314.6 H420.5" fill="none" stroke="#000" stroke-width="1.4" stroke-linejoin="round" />
<rect x="156.20" y="1177.50" width="2.10" height="17.00" fill="#999" stroke="#000" stroke-width="1.6"/>
<rect x="149.60" y="1176.10" width="6.50" height="19.80" rx="2.5" fill="none" stroke="#000" stroke-width="1.8"/>
<line x1="149.6" y1="1181.3" x2="156.1" y2="1181.3" stroke="#000" stroke-width="1.6" />
<line x1="149.6" y1="1190.5" x2="156.1" y2="1190.5" stroke="#000" stroke-width="1.6" />
<rect x="145.30" y="1180.00" width="4.20" height="12.00" rx="1.5" fill="#888" stroke="#000" stroke-width="1.4"/>
<rect x="420.50" y="1177.50" width="2.10" height="17.00" fill="none" stroke="#000" stroke-width="1.6"/>
<rect x="423.30" y="1176.10" width="6.90" height="19.80" rx="2.5" fill="none" stroke="#000" stroke-width="1.8"/>
<line x1="423.3" y1="1181.3" x2="430.2" y2="1181.3" stroke="#000" stroke-width="1.6" />
<line x1="423.3" y1="1190.5" x2="430.2" y2="1190.5" stroke="#000" stroke-width="1.6" />
<rect x="430.80" y="1180.00" width="3.90" height="12.00" rx="1.5" fill="#888" stroke="#000" stroke-width="1.4"/>
<rect x="156.20" y="1297.00" width="2.10" height="17.00" fill="#999" stroke="#000" stroke-width="1.6"/>
<rect x="149.60" y="1295.60" width="6.50" height="19.80" rx="2.5" fill="none" stroke="#000" stroke-width="1.8"/>
<line x1="149.6" y1="1300.8" x2="156.1" y2="1300.8" stroke="#000" stroke-width="1.6" />
<line x1="149.6" y1="1310.0" x2="156.1" y2="1310.0" stroke="#000" stroke-width="1.6" />
<rect x="145.30" y="1299.50" width="4.20" height="12.00" rx="1.5" fill="#888" stroke="#000" stroke-width="1.4"/>
<rect x="420.50" y="1297.00" width="2.10" height="17.00" fill="none" stroke="#000" stroke-width="1.6"/>
<rect x="423.30" y="1295.60" width="6.90" height="19.80" rx="2.5" fill="none" stroke="#000" stroke-width="1.8"/>
<line x1="423.3" y1="1300.8" x2="430.2" y2="1300.8" stroke="#000" stroke-width="1.6" />
<line x1="423.3" y1="1310.0" x2="430.2" y2="1310.0" stroke="#000" stroke-width="1.6" />
<rect x="430.80" y="1299.50" width="3.90" height="12.00" rx="1.5" fill="#888" stroke="#000" stroke-width="1.4"/>
<rect x="217.10" y="1104.10" width="6.40" height="81.50" fill="none" stroke="#000" stroke-width="1.6"/>
<rect x="217.10" y="1304.80" width="6.40" height="81.90" fill="none" stroke="#000" stroke-width="1.6"/>
<path d="M197.3,1121.3 H189.5 Q186.8,1121.3 186.8,1124.4 V1134.4 Q186.8,1137.5 189.5,1137.5 H197.3" fill="none" stroke="#000" stroke-width="1.2" stroke-linejoin="round" />
<line x1="188.9" y1="1123.4" x2="188.9" y2="1135.4" stroke="#555" stroke-width="0.8" />
<rect x="197.30" y="1111.90" width="11.80" height="35.00" rx="3" fill="none" stroke="#000" stroke-width="1.8"/>
<line x1="197.3" y1="1121.7" x2="209.1" y2="1121.7" stroke="#000" stroke-width="1.8" />
<line x1="197.3" y1="1137.1" x2="209.1" y2="1137.1" stroke="#000" stroke-width="1.8" />
<rect x="209.10" y="1116.60" width="3.00" height="25.70" fill="none" stroke="#000" stroke-width="1.5"/>
<rect x="212.30" y="1111.60" width="4.80" height="35.40" fill="none" stroke="#000" stroke-width="1.5"/>
<rect x="223.50" y="1111.60" width="3.40" height="35.40" fill="none" stroke="#000" stroke-width="1.5"/>
<rect x="227.10" y="1111.90" width="12.00" height="35.00" rx="3" fill="none" stroke="#000" stroke-width="1.8"/>
<line x1="227.1" y1="1121.7" x2="239.1" y2="1121.7" stroke="#000" stroke-width="1.8" />
<line x1="227.1" y1="1137.1" x2="239.1" y2="1137.1" stroke="#000" stroke-width="1.8" />
<path d="M197.3,1356.3 H189.5 Q186.8,1356.3 186.8,1359.4 V1369.4 Q186.8,1372.5 189.5,1372.5 H197.3" fill="none" stroke="#000" stroke-width="1.2" stroke-linejoin="round" />
<line x1="188.9" y1="1358.4" x2="188.9" y2="1370.4" stroke="#555" stroke-width="0.8" />
<rect x="197.30" y="1346.90" width="11.80" height="35.00" rx="3" fill="none" stroke="#000" stroke-width="1.8"/>
<line x1="197.3" y1="1356.7" x2="209.1" y2="1356.7" stroke="#000" stroke-width="1.8" />
<line x1="197.3" y1="1372.1" x2="209.1" y2="1372.1" stroke="#000" stroke-width="1.8" />
<rect x="209.10" y="1351.60" width="3.00" height="25.70" fill="none" stroke="#000" stroke-width="1.5"/>
<rect x="212.30" y="1346.60" width="4.80" height="35.40" fill="none" stroke="#000" stroke-width="1.5"/>
<rect x="223.50" y="1346.60" width="3.40" height="35.40" fill="none" stroke="#000" stroke-width="1.5"/>
<rect x="227.10" y="1346.90" width="12.00" height="35.00" rx="3" fill="none" stroke="#000" stroke-width="1.8"/>
<line x1="227.1" y1="1356.7" x2="239.1" y2="1356.7" stroke="#000" stroke-width="1.8" />
<line x1="227.1" y1="1372.1" x2="239.1" y2="1372.1" stroke="#000" stroke-width="1.8" />
<rect x="193.20" y="1190.60" width="54.00" height="108.90" fill="none" stroke="#555" stroke-width="1.0"/>
<line x1="201.0" y1="1190.6" x2="201.0" y2="1299.5" stroke="#000" stroke-width="1.7" />
<line x1="238.8" y1="1190.6" x2="238.8" y2="1299.5" stroke="#000" stroke-width="1.7" />
<rect x="201.60" y="1185.60" width="36.50" height="119.20" fill="#fff" stroke="#000" stroke-width="2.0"/>
<line x1="201.6" y1="1245.0" x2="238.1" y2="1245.0" stroke="#000" stroke-width="2.0" />
<rect x="197.40" y="1196.00" width="4.20" height="7.40" fill="none" stroke="#000" stroke-width="1.4"/>
<rect x="238.10" y="1196.00" width="4.00" height="7.40" fill="none" stroke="#000" stroke-width="1.4"/>
<rect x="197.40" y="1230.00" width="4.20" height="7.40" fill="none" stroke="#000" stroke-width="1.4"/>
<rect x="238.10" y="1230.00" width="4.00" height="7.40" fill="none" stroke="#000" stroke-width="1.4"/>
<rect x="197.40" y="1253.10" width="4.20" height="7.40" fill="none" stroke="#000" stroke-width="1.4"/>
<rect x="238.10" y="1253.10" width="4.00" height="7.40" fill="none" stroke="#000" stroke-width="1.4"/>
<rect x="197.40" y="1287.60" width="4.20" height="7.40" fill="none" stroke="#000" stroke-width="1.4"/>
<rect x="238.10" y="1287.60" width="4.00" height="7.40" fill="none" stroke="#000" stroke-width="1.4"/>
<rect x="287.10" y="1104.10" width="6.40" height="81.50" fill="none" stroke="#000" stroke-width="1.6"/>
<rect x="287.10" y="1304.80" width="6.40" height="81.90" fill="none" stroke="#000" stroke-width="1.6"/>
<path d="M267.3,1121.3 H259.5 Q256.8,1121.3 256.8,1124.4 V1134.4 Q256.8,1137.5 259.5,1137.5 H267.3" fill="none" stroke="#000" stroke-width="1.2" stroke-linejoin="round" />
<line x1="258.9" y1="1123.4" x2="258.9" y2="1135.4" stroke="#555" stroke-width="0.8" />
<rect x="267.30" y="1111.90" width="11.80" height="35.00" rx="3" fill="none" stroke="#000" stroke-width="1.8"/>
<line x1="267.3" y1="1121.7" x2="279.1" y2="1121.7" stroke="#000" stroke-width="1.8" />
<line x1="267.3" y1="1137.1" x2="279.1" y2="1137.1" stroke="#000" stroke-width="1.8" />
<rect x="279.10" y="1116.60" width="3.00" height="25.70" fill="none" stroke="#000" stroke-width="1.5"/>
<rect x="282.30" y="1111.60" width="4.80" height="35.40" fill="none" stroke="#000" stroke-width="1.5"/>
<rect x="293.50" y="1111.60" width="3.40" height="35.40" fill="none" stroke="#000" stroke-width="1.5"/>
<rect x="297.10" y="1111.90" width="12.00" height="35.00" rx="3" fill="none" stroke="#000" stroke-width="1.8"/>
<line x1="297.1" y1="1121.7" x2="309.1" y2="1121.7" stroke="#000" stroke-width="1.8" />
<line x1="297.1" y1="1137.1" x2="309.1" y2="1137.1" stroke="#000" stroke-width="1.8" />
<path d="M267.3,1356.3 H259.5 Q256.8,1356.3 256.8,1359.4 V1369.4 Q256.8,1372.5 259.5,1372.5 H267.3" fill="none" stroke="#000" stroke-width="1.2" stroke-linejoin="round" />
<line x1="258.9" y1="1358.4" x2="258.9" y2="1370.4" stroke="#555" stroke-width="0.8" />
<rect x="267.30" y="1346.90" width="11.80" height="35.00" rx="3" fill="none" stroke="#000" stroke-width="1.8"/>
<line x1="267.3" y1="1356.7" x2="279.1" y2="1356.7" stroke="#000" stroke-width="1.8" />
<line x1="267.3" y1="1372.1" x2="279.1" y2="1372.1" stroke="#000" stroke-width="1.8" />
<rect x="279.10" y="1351.60" width="3.00" height="25.70" fill="none" stroke="#000" stroke-width="1.5"/>
<rect x="282.30" y="1346.60" width="4.80" height="35.40" fill="none" stroke="#000" stroke-width="1.5"/>
<rect x="293.50" y="1346.60" width="3.40" height="35.40" fill="none" stroke="#000" stroke-width="1.5"/>
<rect x="297.10" y="1346.90" width="12.00" height="35.00" rx="3" fill="none" stroke="#000" stroke-width="1.8"/>
<line x1="297.1" y1="1356.7" x2="309.1" y2="1356.7" stroke="#000" stroke-width="1.8" />
<line x1="297.1" y1="1372.1" x2="309.1" y2="1372.1" stroke="#000" stroke-width="1.8" />
<rect x="263.20" y="1190.60" width="54.00" height="108.90" fill="none" stroke="#555" stroke-width="1.0"/>
<line x1="271.0" y1="1190.6" x2="271.0" y2="1299.5" stroke="#000" stroke-width="1.7" />
<line x1="308.8" y1="1190.6" x2="308.8" y2="1299.5" stroke="#000" stroke-width="1.7" />
<rect x="271.60" y="1185.60" width="36.50" height="119.20" fill="#fff" stroke="#000" stroke-width="2.0"/>
<line x1="271.6" y1="1245.0" x2="308.1" y2="1245.0" stroke="#000" stroke-width="2.0" />
<rect x="267.40" y="1196.00" width="4.20" height="7.40" fill="none" stroke="#000" stroke-width="1.4"/>
<rect x="308.10" y="1196.00" width="4.00" height="7.40" fill="none" stroke="#000" stroke-width="1.4"/>
<rect x="267.40" y="1230.00" width="4.20" height="7.40" fill="none" stroke="#000" stroke-width="1.4"/>
<rect x="308.10" y="1230.00" width="4.00" height="7.40" fill="none" stroke="#000" stroke-width="1.4"/>
<rect x="267.40" y="1253.10" width="4.20" height="7.40" fill="none" stroke="#000" stroke-width="1.4"/>
<rect x="308.10" y="1253.10" width="4.00" height="7.40" fill="none" stroke="#000" stroke-width="1.4"/>
<rect x="267.40" y="1287.60" width="4.20" height="7.40" fill="none" stroke="#000" stroke-width="1.4"/>
<rect x="308.10" y="1287.60" width="4.00" height="7.40" fill="none" stroke="#000" stroke-width="1.4"/>
<rect x="354.80" y="1104.10" width="6.40" height="81.50" fill="none" stroke="#000" stroke-width="1.6"/>
<rect x="354.80" y="1304.80" width="6.40" height="81.90" fill="none" stroke="#000" stroke-width="1.6"/>
<path d="M335.0,1121.3 H327.2 Q324.5,1121.3 324.5,1124.4 V1134.4 Q324.5,1137.5 327.2,1137.5 H335.0" fill="none" stroke="#000" stroke-width="1.2" stroke-linejoin="round" />
<line x1="326.6" y1="1123.4" x2="326.6" y2="1135.4" stroke="#555" stroke-width="0.8" />
<rect x="335.00" y="1111.90" width="11.80" height="35.00" rx="3" fill="none" stroke="#000" stroke-width="1.8"/>
<line x1="335.0" y1="1121.7" x2="346.8" y2="1121.7" stroke="#000" stroke-width="1.8" />
<line x1="335.0" y1="1137.1" x2="346.8" y2="1137.1" stroke="#000" stroke-width="1.8" />
<rect x="346.80" y="1116.60" width="3.00" height="25.70" fill="none" stroke="#000" stroke-width="1.5"/>
<rect x="350.00" y="1111.60" width="4.80" height="35.40" fill="none" stroke="#000" stroke-width="1.5"/>
<rect x="361.20" y="1111.60" width="3.40" height="35.40" fill="none" stroke="#000" stroke-width="1.5"/>
<rect x="364.80" y="1111.90" width="12.00" height="35.00" rx="3" fill="none" stroke="#000" stroke-width="1.8"/>
<line x1="364.8" y1="1121.7" x2="376.8" y2="1121.7" stroke="#000" stroke-width="1.8" />
<line x1="364.8" y1="1137.1" x2="376.8" y2="1137.1" stroke="#000" stroke-width="1.8" />
<path d="M335.0,1356.3 H327.2 Q324.5,1356.3 324.5,1359.4 V1369.4 Q324.5,1372.5 327.2,1372.5 H335.0" fill="none" stroke="#000" stroke-width="1.2" stroke-linejoin="round" />
<line x1="326.6" y1="1358.4" x2="326.6" y2="1370.4" stroke="#555" stroke-width="0.8" />
<rect x="335.00" y="1346.90" width="11.80" height="35.00" rx="3" fill="none" stroke="#000" stroke-width="1.8"/>
<line x1="335.0" y1="1356.7" x2="346.8" y2="1356.7" stroke="#000" stroke-width="1.8" />
<line x1="335.0" y1="1372.1" x2="346.8" y2="1372.1" stroke="#000" stroke-width="1.8" />
<rect x="346.80" y="1351.60" width="3.00" height="25.70" fill="none" stroke="#000" stroke-width="1.5"/>
<rect x="350.00" y="1346.60" width="4.80" height="35.40" fill="none" stroke="#000" stroke-width="1.5"/>
<rect x="361.20" y="1346.60" width="3.40" height="35.40" fill="none" stroke="#000" stroke-width="1.5"/>
<rect x="364.80" y="1346.90" width="12.00" height="35.00" rx="3" fill="none" stroke="#000" stroke-width="1.8"/>
<line x1="364.8" y1="1356.7" x2="376.8" y2="1356.7" stroke="#000" stroke-width="1.8" />
<line x1="364.8" y1="1372.1" x2="376.8" y2="1372.1" stroke="#000" stroke-width="1.8" />
<rect x="330.90" y="1190.60" width="54.00" height="108.90" fill="none" stroke="#555" stroke-width="1.0"/>
<line x1="338.7" y1="1190.6" x2="338.7" y2="1299.5" stroke="#000" stroke-width="1.7" />
<line x1="376.5" y1="1190.6" x2="376.5" y2="1299.5" stroke="#000" stroke-width="1.7" />
<rect x="339.30" y="1185.60" width="36.50" height="119.20" fill="#fff" stroke="#000" stroke-width="2.0"/>
<line x1="339.3" y1="1245.0" x2="375.8" y2="1245.0" stroke="#000" stroke-width="2.0" />
<rect x="335.10" y="1196.00" width="4.20" height="7.40" fill="none" stroke="#000" stroke-width="1.4"/>
<rect x="375.80" y="1196.00" width="4.00" height="7.40" fill="none" stroke="#000" stroke-width="1.4"/>
<rect x="335.10" y="1230.00" width="4.20" height="7.40" fill="none" stroke="#000" stroke-width="1.4"/>
<rect x="375.80" y="1230.00" width="4.00" height="7.40" fill="none" stroke="#000" stroke-width="1.4"/>
<rect x="335.10" y="1253.10" width="4.20" height="7.40" fill="none" stroke="#000" stroke-width="1.4"/>
<rect x="375.80" y="1253.10" width="4.00" height="7.40" fill="none" stroke="#000" stroke-width="1.4"/>
<rect x="335.10" y="1287.60" width="4.20" height="7.40" fill="none" stroke="#000" stroke-width="1.4"/>
<rect x="375.80" y="1287.60" width="4.00" height="7.40" fill="none" stroke="#000" stroke-width="1.4"/>
<line x1="122.8" y1="1245.1" x2="590.0" y2="1245.1" stroke="#333" stroke-width="1.0" stroke-dasharray="9 11" />
<line x1="140.3" y1="1198.0" x2="140.3" y2="1293.0" stroke="#333" stroke-width="1.0" stroke-dasharray="9 11" />
<line x1="437.1" y1="1185.0" x2="437.1" y2="1300.0" stroke="#333" stroke-width="1.0" stroke-dasharray="9 11" />
<line x1="427.0" y1="1204.7" x2="458.0" y2="1204.7" stroke="#444" stroke-width="0.9" stroke-dasharray="5 10" />
<line x1="427.0" y1="1286.3" x2="458.0" y2="1286.3" stroke="#444" stroke-width="0.9" stroke-dasharray="5 10" />
<path d="M420.5,1221.7 C455,1221.5 475,1222.5 489.3,1223.5" fill="none" stroke="#000" stroke-width="1.8" stroke-linejoin="round" />
<path d="M420.5,1267.7 C455,1268 475,1267 489.3,1266" fill="none" stroke="#000" stroke-width="1.8" stroke-linejoin="round" />
<path d="M420.5,1225.4 H458.5 A5.95,5.95 0 0 1 458.5,1237.3 H420.5" fill="none" stroke="#000" stroke-width="1.6" stroke-linejoin="round" />
<path d="M420.5,1231.5 H456 V1237.3" fill="none" stroke="#000" stroke-width="1.2" stroke-linejoin="round" />
<path d="M420.5,1253.5 H458.5 A6.3,6.3 0 0 1 458.5,1266.1 H420.5" fill="none" stroke="#000" stroke-width="1.6" stroke-linejoin="round" />
<path d="M420.5,1260 H456 V1253.5" fill="none" stroke="#000" stroke-width="1.2" stroke-linejoin="round" />
<rect x="480.70" y="1241.90" width="8.60" height="6.40" fill="none" stroke="#000" stroke-width="1.4"/>
<rect x="489.10" y="1173.60" width="9.40" height="143.10" fill="none" stroke="#000" stroke-width="2.0"/>
<line x1="494.2" y1="1173.6" x2="494.2" y2="1316.7" stroke="#000" stroke-width="1.4" />
<path d="M498.5,1204.7 C510,1207 516,1212 518.1,1217.7" fill="none" stroke="#000" stroke-width="1.8" stroke-linejoin="round" />
<path d="M498.5,1285.5 C510,1283 516,1278 518.1,1272.3" fill="none" stroke="#000" stroke-width="1.8" stroke-linejoin="round" />
<path d="M498.5,1224 L518.1,1226" fill="none" stroke="#000" stroke-width="1.6" stroke-linejoin="round" />
<path d="M498.5,1266 L518.1,1264" fill="none" stroke="#000" stroke-width="1.6" stroke-linejoin="round" />
<rect x="498.50" y="1239.50" width="19.60" height="11.00" fill="none" stroke="#000" stroke-width="1.4"/>
<rect x="518.10" y="1217.70" width="21.70" height="56.60" fill="none" stroke="#000" stroke-width="2.0"/>
<path d="M527.5,1217.7 C525.5,1235 525.5,1257 527.5,1274.3" fill="none" stroke="#000" stroke-width="1.8" stroke-linejoin="round" />
<path d="M537,1217.7 C535.2,1235 535.2,1257 537,1274.3" fill="none" stroke="#000" stroke-width="1.4" stroke-linejoin="round" />
<path d="M539.8,1220 C542,1226 543,1229 549.6,1230.5" fill="none" stroke="#000" stroke-width="1.8" stroke-linejoin="round" />
<path d="M539.8,1272 C542,1266 543,1263 549.6,1262" fill="none" stroke="#000" stroke-width="1.8" stroke-linejoin="round" />
<path d="M549.6,1229.5 L581.5,1225.5 C586,1236 587,1254 581.5,1265 L549.6,1261.5 Z" fill="none" stroke="#000" stroke-width="1.8" stroke-linejoin="round" />
<path d="M554,1233 L578.5,1229.5 C582,1238 582.5,1252 578.5,1261 L554,1258 C551.5,1249 551.5,1241 554,1233 Z" fill="none" stroke="#000" stroke-width="1.4" stroke-linejoin="round" />
<path d="M553.5,1075.2 L585.5,1080.7" fill="none" stroke="#000" stroke-width="1.5" stroke-linejoin="round" />
<line x1="553.5" y1="1075.2" x2="524.6" y2="1217.7" stroke="#000" stroke-width="1.3" />
<line x1="569.2" y1="1077.9" x2="536.1" y2="1217.7" stroke="#000" stroke-width="1.5" />
<line x1="585.5" y1="1080.7" x2="544.8" y2="1222.0" stroke="#000" stroke-width="1.3" />
<path d="M553.5,1414.6 L585.5,1409.1" fill="none" stroke="#000" stroke-width="1.5" stroke-linejoin="round" />
<line x1="553.5" y1="1414.6" x2="525.7" y2="1274.3" stroke="#000" stroke-width="1.3" />
<line x1="569.2" y1="1411.9" x2="537.2" y2="1274.3" stroke="#000" stroke-width="1.5" />
<line x1="585.5" y1="1409.1" x2="545.3" y2="1270.0" stroke="#000" stroke-width="1.3" />
<rect x="-14" y="-4.2" width="28" height="8.4" rx="4.2" fill="none" stroke="#000" stroke-width="1.3" transform="translate(552.1,1150.8) rotate(12)"/>
<rect x="-12" y="-2" width="24" height="4" rx="2" fill="none" stroke="#000" stroke-width="0.9" transform="translate(552.1,1150.8) rotate(12)"/>
<rect x="-14" y="-4.2" width="28" height="8.4" rx="4.2" fill="none" stroke="#000" stroke-width="1.3" transform="translate(551.8,1339.5) rotate(-12)"/>
<rect x="-12" y="-2" width="24" height="4" rx="2" fill="none" stroke="#000" stroke-width="0.9" transform="translate(551.8,1339.5) rotate(-12)"/>
<line x1="140.3" y1="1070.2" x2="140.3" y2="1198.0" stroke="#444" stroke-width="1.0" />
<line x1="140.3" y1="1293.0" x2="140.3" y2="1425.3" stroke="#444" stroke-width="1.0" />
<line x1="220.3" y1="1070.2" x2="220.3" y2="1104.1" stroke="#000" stroke-width="1.0" />
<line x1="290.3" y1="1070.2" x2="290.3" y2="1104.1" stroke="#000" stroke-width="1.0" />
<line x1="358.0" y1="1070.2" x2="358.0" y2="1104.1" stroke="#000" stroke-width="1.0" />
<line x1="494.4" y1="1070.2" x2="494.4" y2="1173.6" stroke="#444" stroke-width="1.0" />
<line x1="140.3" y1="1074.6" x2="494.4" y2="1074.6" stroke="#555" stroke-width="1.0" />
<polygon points="140.3,1074.6 151.3,1072.2 151.3,1077.0" fill="#000"/>
<polygon points="220.3,1074.6 209.3,1077.0 209.3,1072.2" fill="#000"/>
<polygon points="220.3,1074.6 231.3,1072.2 231.3,1077.0" fill="#000"/>
<polygon points="290.3,1074.6 279.3,1077.0 279.3,1072.2" fill="#000"/>
<polygon points="290.3,1074.6 301.3,1072.2 301.3,1077.0" fill="#000"/>
<polygon points="358.0,1074.6 347.0,1077.0 347.0,1072.2" fill="#000"/>
<polygon points="358.0,1074.6 369.0,1072.2 369.0,1077.0" fill="#000"/>
<polygon points="494.4,1074.6 483.4,1077.0 483.4,1072.2" fill="#000"/>
<text x="183" y="1070.3" font-size="20" text-anchor="middle" >l</text>
<text x="253.7" y="1070.3" font-size="20" text-anchor="middle" >A2</text>
<text x="327.3" y="1070.3" font-size="20" text-anchor="middle" >A2</text>
<text x="422.2" y="1070.3" font-size="20" text-anchor="middle" >l1</text>
<line x1="166.8" y1="1082.3" x2="166.8" y2="1157.4" stroke="#000" stroke-width="1.0" />
<polygon points="166.8,1121.1 164.4,1110.1 169.2,1110.1" fill="#000"/>
<polygon points="166.8,1137.2 169.2,1148.2 164.4,1148.2" fill="#000"/>
<line x1="161.7" y1="1121.1" x2="196.8" y2="1121.1" stroke="#000" stroke-width="1.0" />
<line x1="161.7" y1="1137.2" x2="196.8" y2="1137.2" stroke="#000" stroke-width="1.0" />
<text x="161.2" y="1093.2" font-size="20" text-anchor="middle" transform="rotate(-90 161.2 1093.2)" >d1</text>
<text x="102.6" y="1185" font-size="20" text-anchor="middle" >∅d</text>
<line x1="89.2" y1="1191.6" x2="108.7" y2="1191.6" stroke="#555" stroke-width="1.0" />
<line x1="108.7" y1="1191.6" x2="145.2" y2="1205.7" stroke="#000" stroke-width="1.0" />
<polygon points="145.2,1205.7 134.1,1204.0 135.8,1199.5" fill="#000"/>
<line x1="94.1" y1="1204.3" x2="146.2" y2="1204.3" stroke="#444" stroke-width="1.0" />
<line x1="94.1" y1="1287.0" x2="146.2" y2="1287.0" stroke="#444" stroke-width="1.0" />
<line x1="99.0" y1="1204.3" x2="99.0" y2="1287.0" stroke="#000" stroke-width="1.0" />
<polygon points="99.0,1204.3 101.4,1215.3 96.6,1215.3" fill="#000"/>
<polygon points="99.0,1287.0 96.6,1276.0 101.4,1276.0" fill="#000"/>
<text x="95.1" y="1247" font-size="20" text-anchor="middle" transform="rotate(-90 95.1 1247)" >A1</text>
<line x1="126.7" y1="1314.3" x2="126.7" y2="1483.9" stroke="#444" stroke-width="1.0" />
<line x1="437.1" y1="1300.0" x2="437.1" y2="1425.3" stroke="#444" stroke-width="1.0" />
<line x1="452.5" y1="1314.6" x2="452.5" y2="1454.0" stroke="#444" stroke-width="1.0" />
<line x1="585.5" y1="1080.7" x2="585.5" y2="1482.0" stroke="#444" stroke-width="1.0" />
<line x1="140.3" y1="1420.6" x2="437.1" y2="1420.6" stroke="#555" stroke-width="1.0" />
<polygon points="140.3,1420.6 151.3,1418.2 151.3,1423.0" fill="#000"/>
<polygon points="437.1,1420.6 426.1,1423.0 426.1,1418.2" fill="#000"/>
<line x1="126.7" y1="1449.5" x2="452.5" y2="1449.5" stroke="#555" stroke-width="1.0" />
<polygon points="126.7,1449.5 137.7,1447.1 137.7,1451.9" fill="#000"/>
<polygon points="452.5,1449.5 441.5,1451.9 441.5,1447.1" fill="#000"/>
<line x1="126.7" y1="1478.7" x2="585.5" y2="1478.7" stroke="#555" stroke-width="1.0" />
<polygon points="126.7,1478.7 137.7,1476.3 137.7,1481.1" fill="#000"/>
<polygon points="585.5,1478.7 574.5,1481.1 574.5,1476.3" fill="#000"/>
<text x="292.2" y="1415.2" font-size="20" text-anchor="middle" >A</text>
<text x="293.5" y="1442.9" font-size="20" text-anchor="middle" >L</text>
<text x="361.3" y="1472.2" font-size="20" text-anchor="middle" >L1</text>
<rect x="791.70" y="1177.90" width="5.40" height="135.70" fill="none" stroke="#000" stroke-width="1.6"/>
<rect x="791.70" y="1199.20" width="5.40" height="10.70" fill="none" stroke="#000" stroke-width="1.1"/>
<rect x="791.70" y="1281.60" width="5.40" height="10.70" fill="none" stroke="#000" stroke-width="1.1"/>
<line x1="797.1" y1="1177.9" x2="996.8" y2="1177.9" stroke="#000" stroke-width="1.4" />
<line x1="797.1" y1="1313.5" x2="996.8" y2="1313.5" stroke="#000" stroke-width="1.4" />
<path d="M851.4,1177.9 Q851.4,1169.6 859.5,1169.6 H995 Q1003,1169.6 1003,1177.6 V1314 Q1003,1322 995,1322 H859.5 Q851.4,1322 851.4,1313.5" fill="none" stroke="#000" stroke-width="1.3" stroke-linejoin="round" />
<path d="M926.7,1176.2 H996.6 V1316.3 H926.7" fill="none" stroke="#000" stroke-width="1.4" stroke-linejoin="round" />
<line x1="994.6" y1="1177.9" x2="994.6" y2="1313.5" stroke="#000" stroke-width="1.0" />
<rect x="903.80" y="1104.80" width="44.20" height="64.80" fill="none" stroke="#000" stroke-width="1.6"/>
<polygon points="907.6,1128.5 917.3,1111.5 936.7,1111.5 946.4,1128.5 936.7,1145.5 917.3,1145.5" fill="#fff" stroke="#000" stroke-width="1.5"/>
<circle cx="927.00" cy="1128.50" r="16.00" fill="none" stroke="#000" stroke-width="1.2"/>
<circle cx="927.00" cy="1128.50" r="8.20" fill="none" stroke="#000" stroke-width="1.5"/>
<polygon points="917.0,1201.8 921.9,1193.1 931.6,1193.1 936.4,1201.8 931.6,1210.5 921.9,1210.5" fill="#fff" stroke="#000" stroke-width="1.5"/>
<circle cx="926.70" cy="1201.80" r="5.80" fill="none" stroke="#000" stroke-width="1.4"/>
<line x1="912.0" y1="1201.8" x2="942.0" y2="1201.8" stroke="#333" stroke-width="0.9" stroke-dasharray="3 2" />
<polygon points="917.0,1287.4 921.9,1278.7 931.6,1278.7 936.4,1287.4 931.6,1296.1 921.9,1296.1" fill="#fff" stroke="#000" stroke-width="1.5"/>
<circle cx="926.70" cy="1287.40" r="5.80" fill="none" stroke="#000" stroke-width="1.4"/>
<line x1="912.0" y1="1287.4" x2="942.0" y2="1287.4" stroke="#333" stroke-width="0.9" stroke-dasharray="3 2" />
<line x1="927.0" y1="1244.8" x2="995.9" y2="1177.9" stroke="#555" stroke-width="0.9" stroke-dasharray="8 8" />
<line x1="927.0" y1="1244.8" x2="995.9" y2="1312.6" stroke="#555" stroke-width="0.9" stroke-dasharray="8 8" />
<path d="M859.5,1322 V1386.9 H904 V1330 L907,1322" fill="none" stroke="#000" stroke-width="1.6" stroke-linejoin="round" />
<path d="M950.5,1412.6 V1386.9 H995.5 V1322 M950.5,1386.9 V1330 L947.5,1322" fill="none" stroke="#000" stroke-width="1.6" stroke-linejoin="round" />
<polygon points="862.3,1362.0 872.3,1344.7 892.3,1344.7 902.3,1362.0 892.3,1379.3 872.3,1379.3" fill="#fff" stroke="#000" stroke-width="1.5"/>
<circle cx="882.30" cy="1362.00" r="16.40" fill="none" stroke="#000" stroke-width="1.3"/>
<circle cx="882.30" cy="1362.00" r="8.00" fill="none" stroke="#000" stroke-width="1.5"/>
<line x1="868.3" y1="1362.0" x2="896.3" y2="1362.0" stroke="#000" stroke-width="1.0" />
<polygon points="952.4,1362.0 962.4,1344.7 982.4,1344.7 992.4,1362.0 982.4,1379.3 962.4,1379.3" fill="#fff" stroke="#000" stroke-width="1.5"/>
<circle cx="972.40" cy="1362.00" r="16.40" fill="none" stroke="#000" stroke-width="1.3"/>
<circle cx="972.40" cy="1362.00" r="8.00" fill="none" stroke="#000" stroke-width="1.5"/>
<line x1="958.4" y1="1362.0" x2="986.4" y2="1362.0" stroke="#000" stroke-width="1.0" />
<path d="M1003.8,1185.1 H1044.5 V1304.1 H1003.8" fill="none" stroke="#000" stroke-width="1.1" stroke-linejoin="round" />
<rect x="1033.70" y="1195.00" width="3.10" height="8.50" rx="1.2" fill="#ccc" stroke="#000" stroke-width="1.3"/>
<rect x="1033.70" y="1228.80" width="3.10" height="8.50" rx="1.2" fill="#ccc" stroke="#000" stroke-width="1.3"/>
<rect x="1033.70" y="1253.00" width="3.10" height="8.50" rx="1.2" fill="#ccc" stroke="#000" stroke-width="1.3"/>
<rect x="1033.70" y="1286.80" width="3.10" height="8.50" rx="1.2" fill="#ccc" stroke="#000" stroke-width="1.3"/>
<g transform="rotate(0 927.0 1244.8)">
<rect x="1045.2" y="1227.3" width="4.5" height="35" rx="2.2" fill="#fff" stroke="#000" stroke-width="1.8"/>
<path d="M1049.7,1231.3 L1145.7,1225.0 Q1153.4,1230.8 1153.4,1244.8 Q1153.4,1258.8 1145.7,1264.6 L1049.7,1258.3" fill="none" stroke="#000" stroke-width="1.6" stroke-linejoin="round" />
<path d="M1065.0,1234.3 L1143.5,1228.0 Q1149.5,1232.8 1149.5,1244.8 Q1149.5,1256.8 1143.5,1261.6 L1065.0,1255.3 Q1054.0,1253.8 1054.0,1244.8 Q1054.0,1235.8 1065.0,1234.3 Z" fill="none" stroke="#000" stroke-width="1.3" stroke-linejoin="round" />
</g>
<g transform="rotate(-45 927.0 1244.8)">
<path d="M1020.2,1231.3999999999999 H1045.2 M1025.6,1258.2 H1045.2" fill="none" stroke="#000" stroke-width="1.8" stroke-linejoin="round" />
<path d="M1026.0,1236.3 H1029.5 A8.5,8.5 0 0 1 1029.5,1253.3 H1026.0" fill="none" stroke="#000" stroke-width="1.4" stroke-linejoin="round" />
<rect x="1045.2" y="1227.3" width="4.5" height="35" rx="2.2" fill="#fff" stroke="#000" stroke-width="1.8"/>
<path d="M1049.7,1231.3 L1145.7,1225.0 Q1153.4,1230.8 1153.4,1244.8 Q1153.4,1258.8 1145.7,1264.6 L1049.7,1258.3" fill="none" stroke="#000" stroke-width="1.6" stroke-linejoin="round" />
<path d="M1065.0,1234.3 L1143.5,1228.0 Q1149.5,1232.8 1149.5,1244.8 Q1149.5,1256.8 1143.5,1261.6 L1065.0,1255.3 Q1054.0,1253.8 1054.0,1244.8 Q1054.0,1235.8 1065.0,1234.3 Z" fill="none" stroke="#000" stroke-width="1.3" stroke-linejoin="round" />
</g>
<g transform="rotate(45 927.0 1244.8)">
<path d="M1025.6,1231.3999999999999 H1045.2 M1020.2,1258.2 H1045.2" fill="none" stroke="#000" stroke-width="1.8" stroke-linejoin="round" />
<path d="M1026.0,1236.3 H1029.5 A8.5,8.5 0 0 1 1029.5,1253.3 H1026.0" fill="none" stroke="#000" stroke-width="1.4" stroke-linejoin="round" />
<rect x="1045.2" y="1227.3" width="4.5" height="35" rx="2.2" fill="#fff" stroke="#000" stroke-width="1.8"/>
<path d="M1049.7,1231.3 L1145.7,1225.0 Q1153.4,1230.8 1153.4,1244.8 Q1153.4,1258.8 1145.7,1264.6 L1049.7,1258.3" fill="none" stroke="#000" stroke-width="1.6" stroke-linejoin="round" />
<path d="M1065.0,1234.3 L1143.5,1228.0 Q1149.5,1232.8 1149.5,1244.8 Q1149.5,1256.8 1143.5,1261.6 L1065.0,1255.3 Q1054.0,1253.8 1054.0,1244.8 Q1054.0,1235.8 1065.0,1234.3 Z" fill="none" stroke="#000" stroke-width="1.3" stroke-linejoin="round" />
</g>
<line x1="994.9" y1="1176.9" x2="1093.2" y2="1078.6" stroke="#333" stroke-width="0.9" stroke-dasharray="9 11" />
<line x1="994.9" y1="1312.7" x2="1093.2" y2="1411.0" stroke="#333" stroke-width="0.9" stroke-dasharray="9 11" />
<line x1="793.8" y1="1244.8" x2="1160.2" y2="1244.8" stroke="#333" stroke-width="1.0" stroke-dasharray="9 11" />
<line x1="927.0" y1="984.5" x2="927.0" y2="1414.0" stroke="#333" stroke-width="1.0" stroke-dasharray="9 11" />
<line x1="927.0" y1="1414.0" x2="927.0" y2="1451.0" stroke="#000" stroke-width="1.0" />
<path d="M1043.0,1128.8 A164,164 0 0 1 1043.0,1360.8" fill="none" stroke="#000" stroke-width="1.0" stroke-linejoin="round" />
<polygon points="1043.0,1128.8 1052.4,1134.9 1049.0,1138.3" fill="#000"/>
<polygon points="1043.0,1360.8 1049.0,1351.3 1052.4,1354.7" fill="#000"/>
<text x="1066" y="1202" font-size="20" text-anchor="middle" transform="rotate(75 1066 1202)" >90°</text>
<path d="M1153.0,1240.9 A226,226 0 0 1 1109.8,1377.6" fill="none" stroke="#000" stroke-width="1.0" stroke-linejoin="round" />
<line x1="927.0" y1="1244.8" x2="1145.0" y2="1389.6" stroke="#000" stroke-width="1.0" />
<polygon points="1113.5,1370.4 1124.0,1374.5 1121.3,1378.5" fill="#000"/>
<text x="1138" y="1379" font-size="20" text-anchor="middle" transform="rotate(30 1138 1379)" >R</text>
<line x1="660.4" y1="1075.3" x2="1070.5" y2="1075.3" stroke="#000" stroke-width="1.0" />
<line x1="660.4" y1="1414.2" x2="1070.5" y2="1414.2" stroke="#000" stroke-width="1.0" />
<line x1="668.2" y1="1075.3" x2="668.2" y2="1414.2" stroke="#000" stroke-width="1.0" />
<polygon points="668.2,1075.3 670.6,1086.3 665.8,1086.3" fill="#000"/>
<polygon points="668.2,1414.2 665.8,1403.2 670.6,1403.2" fill="#000"/>
<text x="662.5" y="1223.7" font-size="20" text-anchor="middle" transform="rotate(-90 662.5 1223.7)" >B1</text>
<line x1="712.4" y1="1104.8" x2="903.8" y2="1104.8" stroke="#000" stroke-width="1.0" />
<line x1="712.4" y1="1386.9" x2="859.5" y2="1386.9" stroke="#000" stroke-width="1.0" />
<line x1="720.5" y1="1104.8" x2="720.5" y2="1386.9" stroke="#000" stroke-width="1.0" />
<polygon points="720.5,1104.8 722.9,1115.8 718.1,1115.8" fill="#000"/>
<polygon points="720.5,1386.9 718.1,1375.9 722.9,1375.9" fill="#000"/>
<text x="714" y="1234" font-size="20" text-anchor="middle" transform="rotate(-90 714 1234)" >B</text>
<line x1="750.8" y1="1177.9" x2="791.7" y2="1177.9" stroke="#000" stroke-width="1.0" />
<line x1="750.8" y1="1313.5" x2="791.7" y2="1313.5" stroke="#000" stroke-width="1.0" />
<line x1="757.6" y1="1177.9" x2="757.6" y2="1313.5" stroke="#000" stroke-width="1.0" />
<polygon points="757.6,1177.9 760.0,1188.9 755.2,1188.9" fill="#000"/>
<polygon points="757.6,1313.5 755.2,1302.5 760.0,1302.5" fill="#000"/>
<text x="751.8" y="1237" font-size="20" text-anchor="middle" transform="rotate(-90 751.8 1237)" >b</text>
<line x1="839.4" y1="1083.9" x2="839.4" y2="1168.2" stroke="#000" stroke-width="1.0" />
<polygon points="839.4,1104.8 837.0,1093.8 841.8,1093.8" fill="#000"/>
<polygon points="839.4,1128.1 841.8,1139.1 837.0,1139.1" fill="#000"/>
<line x1="834.0" y1="1128.1" x2="946.0" y2="1128.1" stroke="#000" stroke-width="1.0" />
<text x="835" y="1155.7" font-size="20" text-anchor="middle" transform="rotate(-90 835 1155.7)" >b2</text>
<line x1="882.4" y1="1262.2" x2="882.4" y2="1375.0" stroke="#000" stroke-width="1.0" />
<line x1="972.6" y1="1262.2" x2="972.6" y2="1375.0" stroke="#000" stroke-width="1.0" />
<line x1="882.4" y1="1267.7" x2="972.6" y2="1267.7" stroke="#000" stroke-width="1.0" />
<polygon points="882.4,1267.7 893.4,1265.3 893.4,1270.1" fill="#000"/>
<polygon points="972.6,1267.7 961.6,1270.1 961.6,1265.3" fill="#000"/>
<text x="911.5" y="1262.2" font-size="20" text-anchor="middle" >a</text>
<line x1="994.9" y1="1386.9" x2="994.9" y2="1412.6" stroke="#000" stroke-width="1.0" />
<line x1="950.5" y1="1407.3" x2="1023.0" y2="1407.3" stroke="#000" stroke-width="1.0" />
<polygon points="950.5,1407.3 961.5,1404.9 961.5,1409.7" fill="#000"/>
<polygon points="994.9,1407.3 983.9,1409.7 983.9,1404.9" fill="#000"/>
<text x="1015" y="1401" font-size="20" text-anchor="middle" >b1</text>
<line x1="791.7" y1="1313.6" x2="791.7" y2="1517.0" stroke="#000" stroke-width="1.0" />
<line x1="1044.6" y1="1304.1" x2="1044.6" y2="1484.7" stroke="#000" stroke-width="1.0" />
<line x1="1152.7" y1="1247.0" x2="1152.7" y2="1517.0" stroke="#000" stroke-width="1.0" />
<line x1="791.7" y1="1446.2" x2="927.2" y2="1446.2" stroke="#000" stroke-width="1.0" />
<polygon points="791.7,1446.2 802.7,1443.8 802.7,1448.6" fill="#000"/>
<polygon points="927.2,1446.2 916.2,1448.6 916.2,1443.8" fill="#000"/>
<line x1="791.7" y1="1479.3" x2="1044.6" y2="1479.3" stroke="#000" stroke-width="1.0" />
<polygon points="791.7,1479.3 802.7,1476.9 802.7,1481.7" fill="#000"/>
<polygon points="1044.6,1479.3 1033.6,1481.7 1033.6,1476.9" fill="#000"/>
<line x1="791.7" y1="1511.8" x2="1152.7" y2="1511.8" stroke="#000" stroke-width="1.0" />
<polygon points="791.7,1511.8 802.7,1509.4 802.7,1514.2" fill="#000"/>
<polygon points="1152.7,1511.8 1141.7,1514.2 1141.7,1509.4" fill="#000"/>
<text x="863" y="1441.5" font-size="20" text-anchor="middle" >h</text>
<text x="921.8" y="1474.6" font-size="20" text-anchor="middle" >H</text>
<text x="980.5" y="1506.7" font-size="20" text-anchor="middle" >H1</text>
</svg>
</body></html>
